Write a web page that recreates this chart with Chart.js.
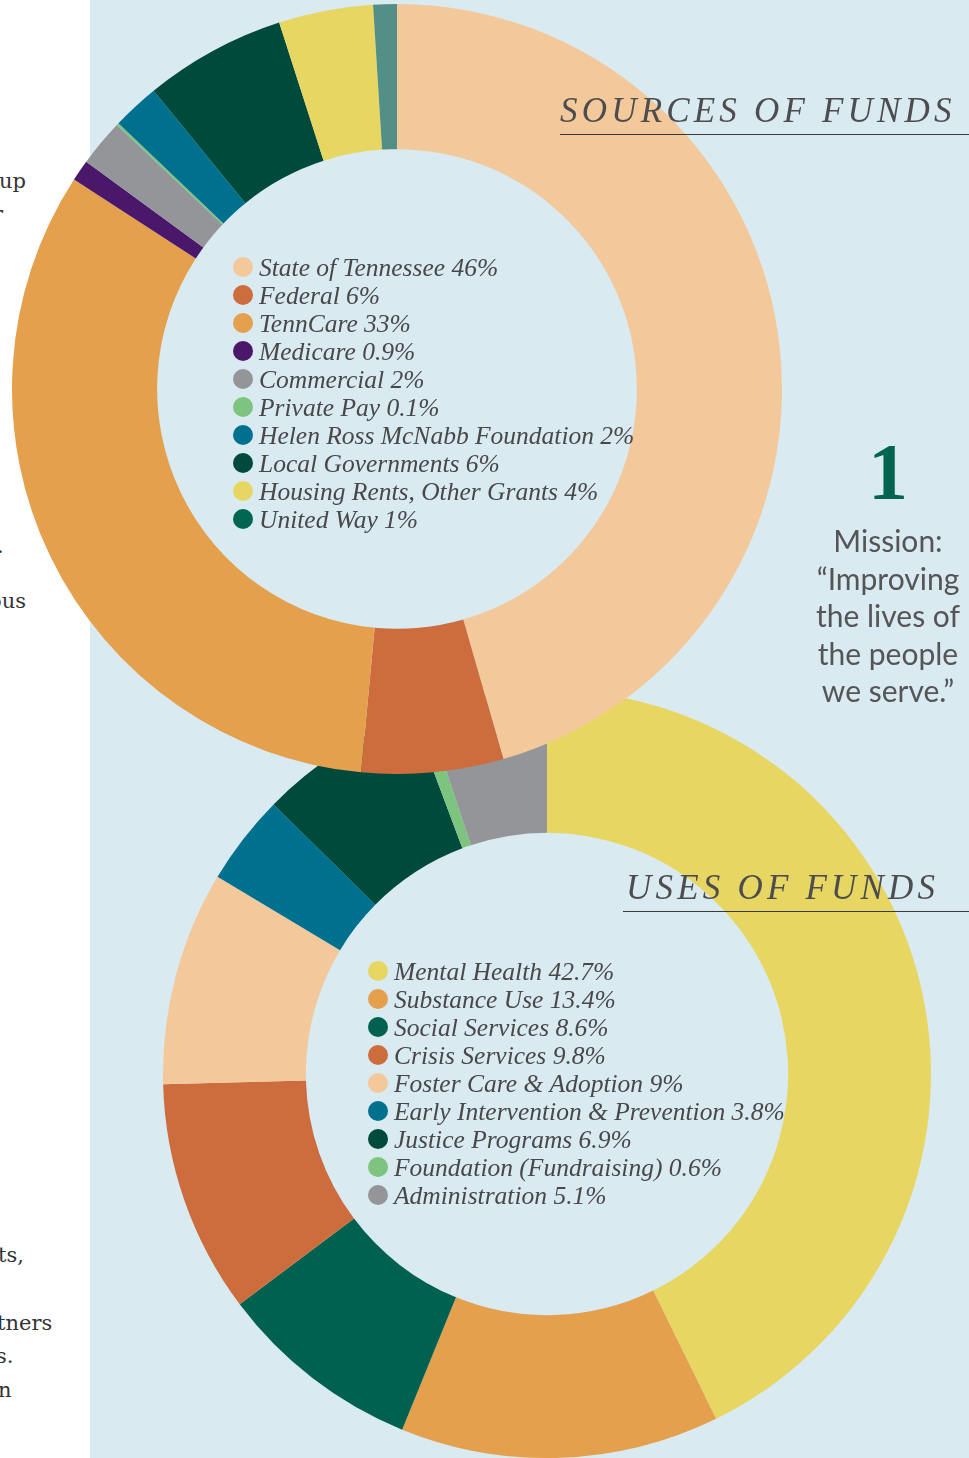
<!DOCTYPE html>
<html>
<head>
<meta charset="utf-8">
<script src="https://cdn.jsdelivr.net/npm/chart.js@4.4.1/dist/chart.umd.min.js"></script>
<style>
  html, body { margin:0; padding:0; }
  body { width:969px; height:1458px; position:relative; overflow:hidden; background:#ffffff; }
  #panel { position:absolute; left:90px; top:0; width:879px; height:1458px; background:#d9eaf1; }
  canvas { position:absolute; }
  #cTop { left:12px; top:4px; z-index:3; }
  #cBot { left:163px; top:690px; z-index:2; }
  .frag { position:absolute; font-family:"DejaVu Serif", serif; font-size:21px; color:#333; white-space:nowrap; line-height:1; }
  .title { position:absolute; font-family:"Liberation Serif", serif; font-style:italic; font-size:35px; letter-spacing:4.2px; color:#4d4d4f; white-space:nowrap; z-index:5; line-height:1; }
  .rule { position:absolute; height:1px; background:#3a3a3a; z-index:5; }
  #num { position:absolute; left:828px; width:120px; text-align:center; top:432px; font-family:"Liberation Serif", serif; font-weight:bold; font-size:80px; color:#00654f; line-height:1; z-index:5; }
  #mission { position:absolute; left:788px; width:200px; text-align:center; top:522px; font-family:Lato, sans-serif; font-size:30px; line-height:37.5px; color:#555557; z-index:5; }
</style>
</head>
<body>
<div id="panel"></div>
<div class="frag" style="left:-1px; top:171px;">up</div>
<div class="frag" style="left:-7px; top:204px;">r</div>
<div class="frag" style="left:-3px; top:536px;">.</div>
<div class="frag" style="left:-11px; top:591px;">ous</div>
<div class="frag" style="left:-2px; top:1245px;">ts,</div>
<div class="frag" style="left:-3px; top:1313px;">tners</div>
<div class="frag" style="left:-4px; top:1346px;">s.</div>
<div class="frag" style="left:-2px; top:1380px;">n</div>

<canvas id="cBot" width="768" height="768"></canvas>
<canvas id="cTop" width="770" height="770"></canvas>

<div class="title" style="left:560px; top:93px;">SOURCES OF FUNDS</div>
<div class="rule" style="left:560px; top:134px; width:409px;"></div>
<div class="title" style="left:626px; top:870px;">USES OF FUNDS</div>
<div class="rule" style="left:623px; top:911px; width:346px;"></div>

<div id="num">1</div>
<div id="mission">Mission:<br>“Improving<br>the lives of<br>the people<br>we serve.”</div>

<script>
// ---- Data ----
const sourceLabels = ["State of Tennessee", "Federal", "TennCare", "Medicare", "Commercial", "Private Pay", "Helen Ross McNabb Foundation", "Local Governments", "Housing Rents, Other Grants", "United Way"];
const sourceValues = [46, 6, 33, 0.9, 2, 0.1, 2, 6, 4, 1];

const useLabels = ["Mental Health", "Substance Use", "Social Services", "Crisis Services", "Foster Care & Adoption", "Early Intervention & Prevention", "Justice Programs", "Foundation (Fundraising)", "Administration"];
const useValues = [42.7, 13.4, 8.6, 9.8, 9, 3.8, 6.9, 0.6, 5.1];

// ---- Styles ----
const sourceColors = ["#f3c99b", "#cd6c3c", "#e4a04c", "#4b176b", "#949598", "#7dc47f", "#00708f", "#004a3c", "#e8d663", "#548f87"];
const sourceLegendColors = ["#f3c99b", "#cd6c3c", "#e4a04c", "#4b176b", "#949598", "#7dc47f", "#00708f", "#004a3c", "#e8d663", "#006651"];
const useColors = ["#e8d663", "#e4a04c", "#006150", "#cd6c3c", "#f3c99b", "#00708f", "#004a3c", "#7dc47f", "#949598"];

function legendPlugin(colors, dotX, firstY, step) {
  return {
    id: 'innerLegend',
    afterDraw(chart) {
      const ctx = chart.ctx;
      const labels = chart.data.labels;
      const vals = chart.data.datasets[0].data;
      ctx.save();
      ctx.font = 'italic 25.5px "Liberation Serif", serif';
      ctx.textBaseline = 'alphabetic';
      labels.forEach((lab, i) => {
        const y = firstY + i * step;
        ctx.beginPath();
        ctx.fillStyle = colors[i];
        ctx.arc(dotX, y, 10, 0, Math.PI * 2);
        ctx.fill();
        ctx.fillStyle = '#48484a';
        ctx.fillText(lab + ' ' + vals[i] + '%', dotX + 16, y + 8.5);
      });
      ctx.restore();
    }
  };
}

function makeDonut(id, labels, values, colors, cutout, plugin) {
  return new Chart(document.getElementById(id), {
    type: 'doughnut',
    data: { labels: labels, datasets: [{ data: values, backgroundColor: colors, borderWidth: 0, hoverOffset: 0 }] },
    options: {
      responsive: false,
      animation: false,
      cutout: cutout,
      rotation: 0,
      layout: { padding: 0 },
      plugins: { legend: { display: false }, tooltip: { enabled: false } }
    },
    plugins: [plugin]
  });
}

makeDonut('cBot', useLabels, useValues, useColors, '62.8%', legendPlugin(useColors, 215, 281, 28));
makeDonut('cTop', sourceLabels, sourceValues, sourceColors, '62.3%', legendPlugin(sourceLegendColors, 231, 263, 28));
</script>
</body>
</html>
